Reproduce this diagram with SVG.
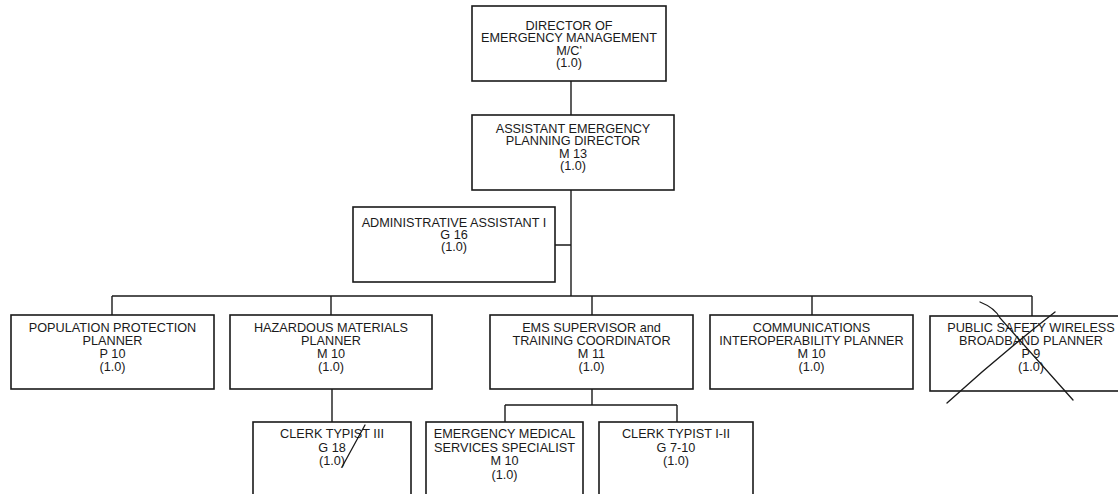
<svg xmlns="http://www.w3.org/2000/svg" width="1118" height="494" viewBox="0 0 1118 494">
<style>
.box{fill:#fff;stroke:#1a1a1a;stroke-width:1.6}
.t{font-family:"Liberation Sans",Arial,sans-serif;font-size:12.7px;fill:#1a1a1a;text-anchor:middle}
.c{fill:none;stroke:#1a1a1a;stroke-width:1.4}
.mark{fill:none;stroke:#1a1a1a;stroke-width:1.3;stroke-linecap:round}
</style>
<rect width="1118" height="494" fill="#fff"/>
<g id="connectors">
<path class="c" d="M571 81V115M571 190V296M555 245H571M112 296H1032M112 296V315M331 296V315M592 296V315M812 296V315M1032 296V316M332 389V422M592 389V405M505 405H677M505 405V422M677 405V422"/>
</g>
<g id="director">
<rect class="box" x="472" y="6" width="194" height="75"/>
<text class="t" x="569" y="29.5">DIRECTOR OF</text>
<text class="t" x="569" y="42">EMERGENCY MANAGEMENT</text>
<text class="t" x="569" y="54.5">M/C'</text>
<text class="t" x="569" y="67">(1.0)</text>
</g>
<g id="assistant">
<rect class="box" x="472" y="115" width="202" height="75"/>
<text class="t" x="573" y="132.5">ASSISTANT EMERGENCY</text>
<text class="t" x="573" y="145">PLANNING DIRECTOR</text>
<text class="t" x="573" y="157.5">M 13</text>
<text class="t" x="573" y="170">(1.0)</text>
</g>
<g id="admin">
<rect class="box" x="353" y="207" width="202" height="75"/>
<text class="t" x="454" y="226.5">ADMINISTRATIVE ASSISTANT I</text>
<text class="t" x="454" y="238.5">G 16</text>
<text class="t" x="454" y="250.5">(1.0)</text>
</g>
<g id="population">
<rect class="box" x="11" y="315" width="203" height="74"/>
<text class="t" x="112.5" y="331.5">POPULATION PROTECTION</text>
<text class="t" x="112.5" y="344.5">PLANNER</text>
<text class="t" x="112.5" y="357.5">P 10</text>
<text class="t" x="112.5" y="371">(1.0)</text>
</g>
<g id="hazmat">
<rect class="box" x="230" y="315" width="202" height="74"/>
<text class="t" x="331" y="331.5">HAZARDOUS MATERIALS</text>
<text class="t" x="331" y="344.5">PLANNER</text>
<text class="t" x="331" y="357.5">M 10</text>
<text class="t" x="331" y="371">(1.0)</text>
</g>
<g id="ems-supervisor">
<rect class="box" x="490" y="315" width="203" height="74"/>
<text class="t" x="591.5" y="331.5">EMS SUPERVISOR and</text>
<text class="t" x="591.5" y="344.5">TRAINING COORDINATOR</text>
<text class="t" x="591.5" y="357.5">M 11</text>
<text class="t" x="591.5" y="371">(1.0)</text>
</g>
<g id="communications">
<rect class="box" x="710" y="315" width="203" height="74"/>
<text class="t" x="811.5" y="331.5">COMMUNICATIONS</text>
<text class="t" x="811.5" y="344.5">INTEROPERABILITY PLANNER</text>
<text class="t" x="811.5" y="357.5">M 10</text>
<text class="t" x="811.5" y="371">(1.0)</text>
</g>
<g id="public-safety">
<rect class="box" x="930" y="316" width="204" height="75"/>
<text class="t" x="1031" y="331.5">PUBLIC SAFETY WIRELESS</text>
<text class="t" x="1031" y="344.5">BROADBAND PLANNER</text>
<text class="t" x="1031" y="357.5">P 9</text>
<text class="t" x="1031" y="371">(1.0)</text>
<path class="mark" d="M947 403Q1000 355 1055 312"/>
<path class="mark" d="M980 302Q995 308 1000 318L1073 400"/>
</g>
<g id="clerk-typist-3">
<rect class="box" x="253" y="422" width="158" height="80"/>
<text class="t" x="332" y="438">CLERK TYPIST III</text>
<text class="t" x="332" y="451.5">G 18</text>
<text class="t" x="332" y="465">(1.0)</text>
<path class="mark" d="M342 467L365 425"/>
</g>
<g id="ems-specialist">
<rect class="box" x="426" y="422" width="157" height="80"/>
<text class="t" x="504.5" y="438">EMERGENCY MEDICAL</text>
<text class="t" x="504.5" y="451.5">SERVICES SPECIALIST</text>
<text class="t" x="504.5" y="465">M 10</text>
<text class="t" x="504.5" y="478.5">(1.0)</text>
</g>
<g id="clerk-typist-1-2">
<rect class="box" x="599" y="422" width="154" height="80"/>
<text class="t" x="676" y="438">CLERK TYPIST I-II</text>
<text class="t" x="676" y="451.5">G 7-10</text>
<text class="t" x="676" y="465">(1.0)</text>
</g>
</svg>
